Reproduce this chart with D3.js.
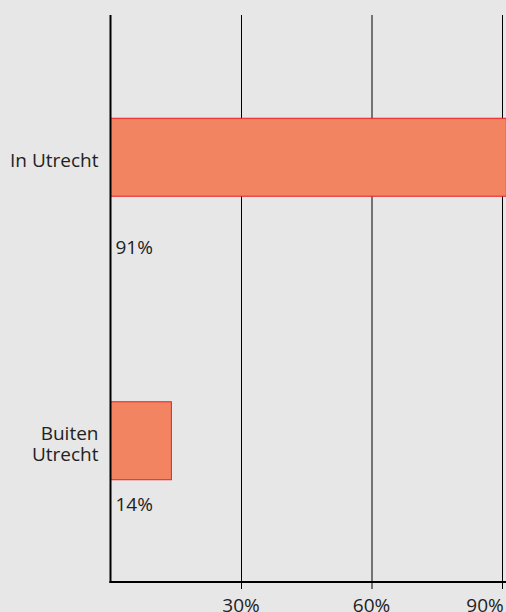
<!DOCTYPE html>
<html>
<head>
<meta charset="utf-8">
<script src="https://cdn.jsdelivr.net/npm/d3@7"></script>
<style>
  body { margin: 0; background: #e7e7e7; }
  svg { display: block; font-family: "Open Sans", sans-serif; }
</style>
</head>
<body>
<svg></svg>
<script>
const categories = [["In Utrecht"], ["Buiten", "Utrecht"]],
      values = [91, 14],
      tickValues = [30, 60, 90];

const width = 506,
      height = 612,
      margin = {top: 15, right: 0, bottom: 30, left: 110.5};

const svg = d3.select("svg")
              .attr("width", width)
              .attr("height", height);

// x scale: 90% lands at ~502px
let x = d3.scaleLinear()
          .domain([0, 90])
          .range([margin.left, 502]);

let y = d3.scaleBand()
          .domain(d3.range(categories.length))
          .range([margin.top, height - margin.bottom])
          .paddingInner(0.725)
          .paddingOuter(0.3625);

// value labels sit under the bars
let yLabel = d3.scalePoint()
               .domain(d3.range(categories.length))
               .range([254, 511]);

// Gridlines
svg.append("g")
   .selectAll("line")
   .data(tickValues)
   .enter().append("line")
   .attr("x1", (d) => x(d) + 0.5)
   .attr("x2", (d) => x(d) + 0.5)
   .attr("y1", margin.top)
   .attr("y2", height - margin.bottom + 7)
   .attr("stroke", "#000")
   .attr("stroke-width", 1);

// Bars
svg.append("g")
   .selectAll("rect")
   .data(values)
   .enter().append("rect")
   .attr("x", x(0))
   .attr("y", (d, i) => y(i) + 0.5)
   .attr("width", (d) => x(d) - x(0))
   .attr("height", y.bandwidth())
   .attr("fill", "#f28462")
   .attr("stroke", "#ee1c26")
   .attr("stroke-width", 1);

// Value labels
svg.append("g")
   .selectAll("text")
   .data(values)
   .enter().append("text")
   .attr("x", x(0) + 5)
   .attr("y", (d, i) => yLabel(i))
   .attr("font-size", 19)
   .attr("fill", "#222")
   .text((d) => d + "%");

// Category labels
let cat = svg.append("g")
   .selectAll("text")
   .data(categories)
   .enter().append("text")
   .attr("text-anchor", "end")
   .attr("font-size", 19)
   .attr("fill", "#222");

cat.selectAll("tspan")
   .data((d, i) => d.map((t, j) => ({t: t, j: j, n: d.length, i: i})))
   .enter().append("tspan")
   .attr("x", margin.left - 12)
   .attr("y", (d) => y(d.i) + y.bandwidth() / 2 + 10.5 + (d.j - (d.n - 1) / 2) * 21)
   .text((d) => d.t);

// Axes lines
svg.append("line")
   .attr("x1", x(0))
   .attr("x2", x(0))
   .attr("y1", margin.top)
   .attr("y2", height - margin.bottom + 1)
   .attr("stroke", "#000")
   .attr("stroke-width", 2);

svg.append("line")
   .attr("x1", x(0) - 1)
   .attr("x2", width)
   .attr("y1", height - margin.bottom)
   .attr("y2", height - margin.bottom)
   .attr("stroke", "#000")
   .attr("stroke-width", 2);

// Tick labels, the last one kept inside the right edge
svg.append("g")
   .selectAll("text")
   .data(tickValues)
   .enter().append("text")
   .attr("x", (d) => Math.min(x(d), width - 21))
   .attr("y", height - margin.bottom + 30)
   .attr("text-anchor", "middle")
   .attr("font-size", 19)
   .attr("fill", "#222")
   .text((d) => d + "%");
</script>
</body>
</html>
